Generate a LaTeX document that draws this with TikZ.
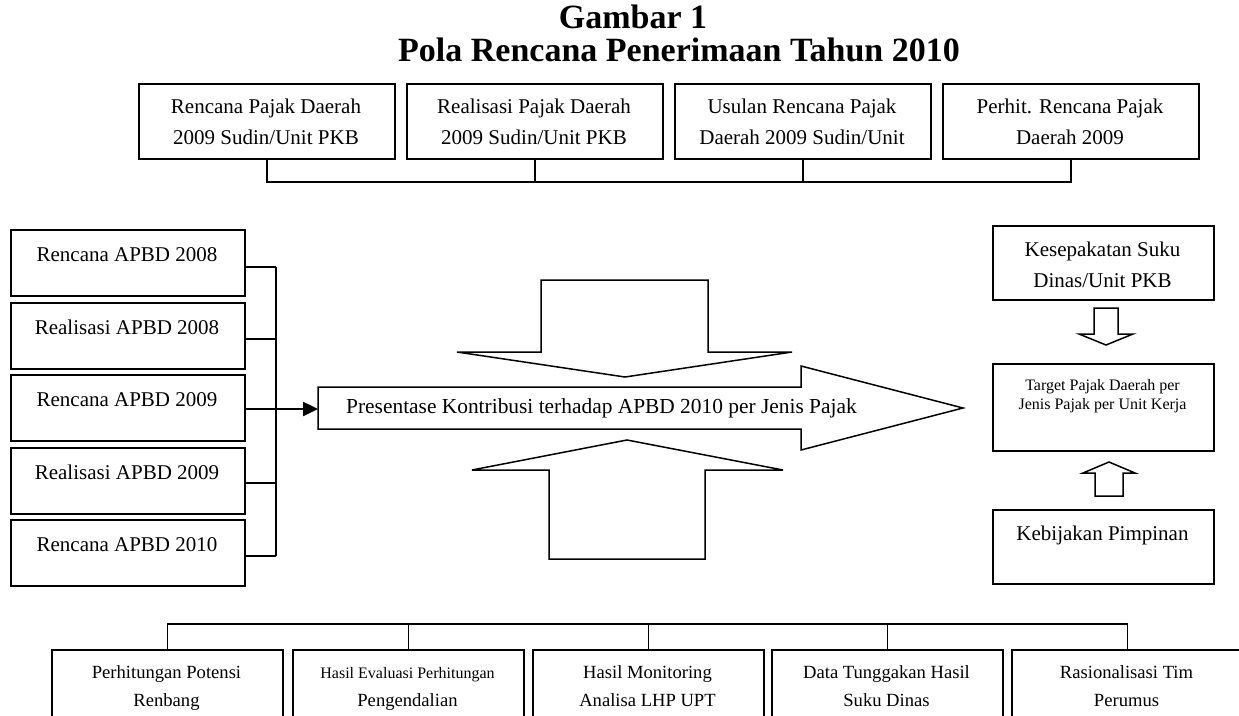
\documentclass[tikz,border=0pt]{standalone}
\usepackage{fontspec}
\setmainfont{Liberation Serif}
\usetikzlibrary{arrows.meta}
\newcommand{\twoline}[1]{\parbox[t]{300pt}{\centering #1}}
\begin{document}
\begin{tikzpicture}[x=1pt,y=-1pt,
  bx/.style 2 args={draw, line width=1.9pt, inner sep=0pt, anchor=north west, minimum width=#1, minimum height=#2},
  txt/.style={inner sep=0pt, anchor=base, font=\fontsize{21}{31}\selectfont},
  txts/.style={inner sep=0pt, anchor=base, font=\fontsize{16}{19.5}\selectfont},
  txtb/.style={inner sep=0pt, anchor=base, font=\fontsize{18.6}{28}\selectfont},
  ttl/.style={inner sep=0pt, anchor=base, font=\fontsize{34}{40}\selectfont\bfseries},
  conn/.style={line width=1.5pt},
  blk/.style={draw, line width=1.5pt, fill=white, line join=miter}]
\useasboundingbox (0,0) rectangle (1239,715);
\clip (0,0) rectangle (1239,715);

% title
\node[ttl] (g1) at (633,28) {Gambar 1};
\node[ttl] (g2) at (679,61) {Pola Rencana Penerimaan Tahun 2010};

% top row
\node[bx={256pt}{75pt}] (tb1) at (138,83) {};
\node[bx={256pt}{75pt}] (tb2) at (406,83) {};
\node[bx={256pt}{75pt}] (tb3) at (674,83) {};
\node[bx={256pt}{75pt}] (tb4) at (942,83) {};
\node[txt] (tt1) at (266,113) {\twoline{Rencana Pajak Daerah\\2009 Sudin/Unit PKB}};
\node[txt] (tt2) at (534,113) {\twoline{Realisasi Pajak Daerah\\2009 Sudin/Unit PKB}};
\node[txt] (tt3) at (802,113) {\twoline{Usulan Rencana Pajak\\Daerah 2009 Sudin/Unit}};
\node[txt] (tt4) at (1070,113) {\twoline{Perhit. Rencana Pajak\\Daerah 2009}};
\coordinate (tbus) at (0,182);
\draw[conn] (tb1.south) -- (tb1.south |- tbus) -- (tb4.south |- tbus) -- (tb4.south);
\draw[conn] (tb2.south) -- (tb2.south |- tbus);
\draw[conn] (tb3.south) -- (tb3.south |- tbus);

% left column
\node[bx={234pt}{66pt}] (lb1) at (10,229) {};
\node[bx={234pt}{66pt}] (lb2) at (10,302) {};
\node[bx={234pt}{66pt}] (lb3) at (10,374) {};
\node[bx={234pt}{66pt}] (lb4) at (10,447) {};
\node[bx={234pt}{66pt}] (lb5) at (10,519) {};
\node[txt] (lt1) at (127,261) {Rencana APBD 2008};
\node[txt] (lt2) at (127,334) {Realisasi APBD 2008};
\node[txt] (lt3) at (127,406) {Rencana APBD 2009};
\node[txt] (lt4) at (127,479) {Realisasi APBD 2009};
\node[txt] (lt5) at (127,551) {Rencana APBD 2010};
\coordinate (lbus) at (276,0);
\coordinate (s1) at ([yshift=-38pt]lb1.north east);
\coordinate (s2) at ([yshift=-37pt]lb2.north east);
\coordinate (s3) at ([yshift=-35pt]lb3.north east);
\coordinate (s4) at ([yshift=-36pt]lb4.north east);
\coordinate (s5) at ([yshift=-37pt]lb5.north east);
\foreach \s in {s1,s2,s3,s4,s5} {\draw[conn] (\s) -- (\s -| lbus);}
\draw[conn] (s1 -| lbus) -- (s5 -| lbus);

% central block arrows
\draw[blk] (541,280) -- (708,280) -- (708,352) -- (792,352) -- (625,377) -- (457,352) -- (541,352) -- cycle;
\draw[blk] (549,559) -- (705,559) -- (705,470) -- (783,470) -- (627,440) -- (472,470) -- (549,470) -- cycle;
\draw[blk] (318,387) -- (801,387) -- (801,366) -- (963,408) -- (801,450) -- (801,429) -- (318,429) -- cycle;
\coordinate (presw) at (318,409);
\node[txt, anchor=base west, font=\fontsize{21.4}{31}\selectfont] (pt) at (346,413) {Presentase Kontribusi terhadap APBD 2010 per Jenis Pajak};
\coordinate (a0) at (265,409);
\draw[line width=2.5pt, -{Triangle[length=15pt,width=14pt]}] (a0) -- (presw);

% right column
\node[bx={221pt}{74pt}] (rb1) at (992,225) {};
\node[bx={221pt}{87pt}] (rb2) at (992,363) {};
\node[bx={221pt}{74pt}] (rb3) at (992,509) {};
\node[txt] (rt1) at (1102.5,256) {\twoline{Kesepakatan Suku\\Dinas/Unit PKB}};
\node[txts] (rt2) at (1102.5,390) {\twoline{Target Pajak Daerah per\\Jenis Pajak per Unit Kerja}};
\node[txt] (rt3) at (1102.5,540) {Kebijakan Pimpinan};
\draw[blk] (1094,308) -- (1118,308) -- (1118,334) -- (1133,334) -- (1106,345) -- (1079,334) -- (1094,334) -- cycle;
\draw[blk] (1095,496) -- (1123,496) -- (1123,473) -- (1135,473) -- (1109,462) -- (1083,473) -- (1095,473) -- cycle;

% bottom row
\node[bx={231pt}{95pt}] (bb1) at (51,649) {};
\node[bx={231pt}{95pt}] (bb2) at (292,649) {};
\node[bx={231pt}{95pt}] (bb3) at (532,649) {};
\node[bx={231pt}{95pt}] (bb4) at (771,649) {};
\node[bx={231pt}{95pt}] (bb5) at (1011,649) {};
\node[txtb] (bt1) at (166.5,678) {\twoline{Perhitungan Potensi\\Renbang}};
\node[txtb] (bt2) at (407.5,678) {\twoline{{\fontsize{16}{28}\selectfont Hasil Evaluasi Perhitungan}\\Pengendalian}};
\node[txtb] (bt3) at (647.5,678) {\twoline{Hasil Monitoring\\Analisa LHP UPT}};
\node[txtb] (bt4) at (886.5,678) {\twoline{Data Tunggakan Hasil\\Suku Dinas}};
\node[txtb] (bt5) at (1126.5,678) {\twoline{Rasionalisasi Tim\\Perumus}};
\coordinate (bbus) at (0,624);
\draw[conn] (bb1.north) -- (bb1.north |- bbus) -- (bb5.north |- bbus) -- (bb5.north);
\draw[conn] (bb2.north) -- (bb2.north |- bbus);
\draw[conn] (bb3.north) -- (bb3.north |- bbus);
\draw[conn] (bb4.north) -- (bb4.north |- bbus);
\end{tikzpicture}
\end{document}
